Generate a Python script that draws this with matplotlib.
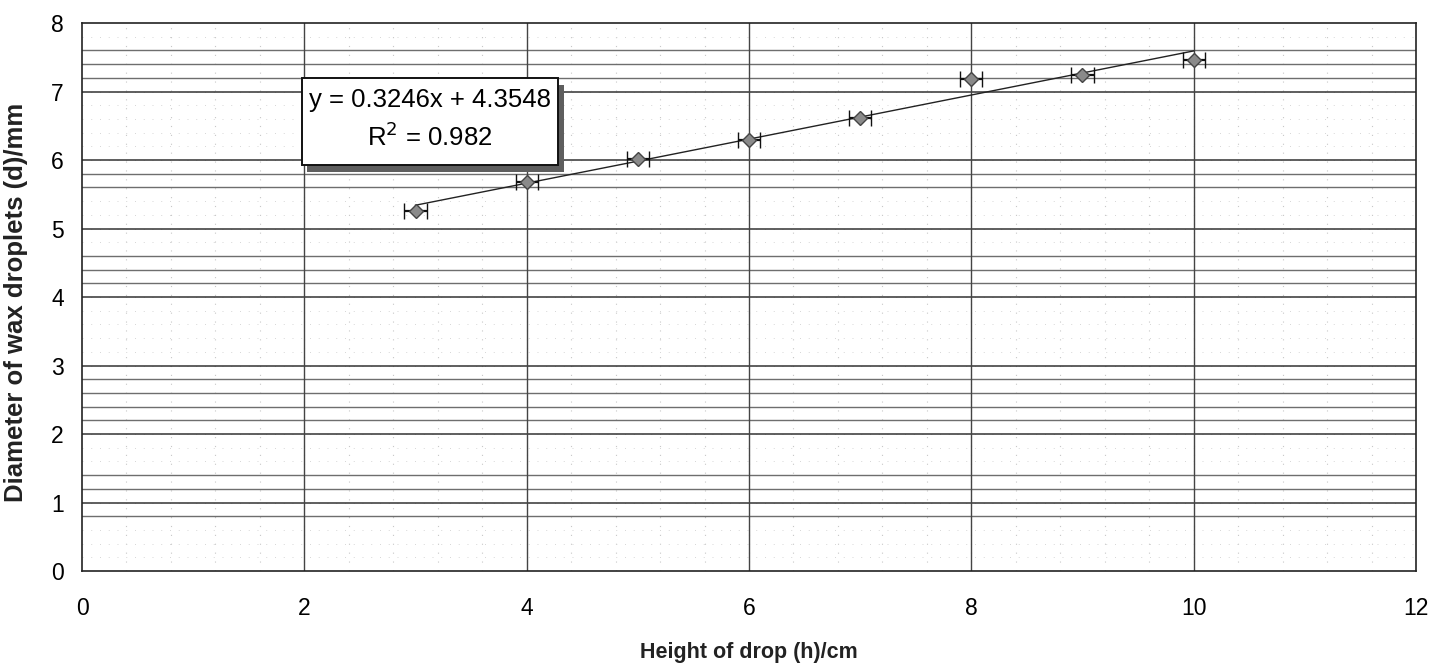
import numpy as np
import matplotlib
matplotlib.use("Agg")
import matplotlib.pyplot as plt
from matplotlib.patches import Rectangle

plt.rcParams['font.family'] = ['Liberation Sans', 'DejaVu Sans']

# data
height_cm = [3, 4, 5, 6, 7, 8, 9, 10]
diameter_mm = [5.26, 5.68, 6.01, 6.29, 6.61, 7.18, 7.24, 7.46]
height_err = [0.1] * 8
eq_text = "y = 0.3246x + 4.3548"
r2_text = "R$^2$ = 0.982"

x_ticks = [0, 2, 4, 6, 8, 10, 12]
y_ticks = [0, 1, 2, 3, 4, 5, 6, 7, 8]
# minor horizontal gridlines that survive in the scan
minor_y_grid = [0.8, 1.2, 1.4, 2.2, 2.4, 2.6, 2.8, 4.2, 4.4, 4.6, 5.6, 5.8, 7.2, 7.4, 7.6]

fig = plt.figure(figsize=(14.44, 6.67), dpi=100)
ax = fig.add_axes([0.0568, 0.1439, 0.9238, 0.8216])
ax.set_xlim(0, 12)
ax.set_ylim(0, 8)

# grid
for v in np.arange(0.4, 12, 0.4):
    ax.axvline(v, color='#c8c8c8', lw=0.8, ls=(0, (1, 7)), zorder=0)
for v in np.arange(0.2, 8, 0.2):
    ax.axhline(v, color='#d6d6d6', lw=0.7, ls=(0, (1, 8)), zorder=0)
for v in minor_y_grid:
    ax.axhline(v, color='#6e6e6e', lw=1.0, zorder=1)
for v in y_ticks[1:-1]:
    ax.axhline(v, color='#333333', lw=1.1, zorder=1)
for v in x_ticks[1:-1]:
    ax.axvline(v, color='#444444', lw=1.0, zorder=1)

# trendline
coef = np.polyfit(height_cm, diameter_mm, 1)
xs = np.array([height_cm[0], height_cm[-1]])
ax.plot(xs, np.polyval(coef, xs), color='#222222', lw=1.0, zorder=3)

ax.errorbar(height_cm, diameter_mm, xerr=height_err, fmt='D', ms=7.5,
            mfc='#8a8a8a', mec='#444444', mew=1.0, ecolor='#111111',
            elinewidth=1.6, capsize=6, capthick=1.8, zorder=4)

# equation box with shadow
ax.add_patch(Rectangle((0.169, 0.729), 0.192, 0.158, transform=ax.transAxes,
                       facecolor='#5e5e5e', edgecolor='none', zorder=5))
ax.add_patch(Rectangle((0.165, 0.741), 0.192, 0.158, transform=ax.transAxes,
                       facecolor='white', edgecolor='#111111', lw=1.4, zorder=6))
ax.text(0.261, 0.8595, eq_text, transform=ax.transAxes, ha='center', va='center',
        fontsize=18.5, zorder=7)
ax.text(0.261, 0.792, r2_text, transform=ax.transAxes, ha='center', va='center',
        fontsize=18.5, zorder=7)

ax.set_xticks(x_ticks)
ax.set_yticks(y_ticks)
ax.tick_params(length=0, labelsize=16.5)
ax.tick_params(axis='x', pad=19)
ax.tick_params(axis='y', pad=13)

for s in ax.spines.values():
    s.set_color('#222222')
    s.set_linewidth(1.2)

ax.set_xlabel("Height of drop (h)/cm", fontsize=15.5, fontweight='bold', color='#222222')
ax.set_ylabel("Diameter of wax droplets (d)/mm", fontsize=18.5, fontweight='bold', color='#222222')
ax.xaxis.set_label_coords(0.5, -0.1296)
ax.yaxis.set_label_coords(-0.0405, 0.49)

fig.savefig("out.png", dpi=100)
